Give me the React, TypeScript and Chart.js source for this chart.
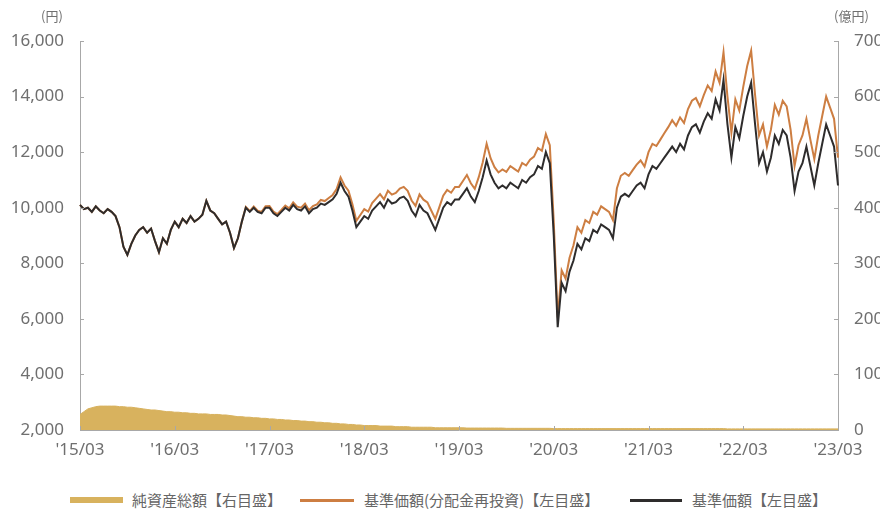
import React, { useEffect, useRef } from "react";
import { Chart, registerables } from "chart.js";

Chart.register(...registerables);

// 半月ごとの日付（2015/03 〜 2023/03）
const startYear = 2015;
const dates: string[] = [];
for (let i = 0; i < 193; i++) {
  const m = Math.floor(i / 2) + 2; // 0-based month from Jan 2015
  const y = startYear + Math.floor(m / 12);
  const mm = (m % 12) + 1;
  dates.push(`${y}/${String(mm).padStart(2, "0")}/${i % 2 === 0 ? "01" : "15"}`);
}

// 基準価額（円）
const navValues: number[] = [
  // 2015
  10100, 9950, 10000, 9850, 10050, 9900, 9800, 9950, 9850, 9700, 9300, 8600, 8300, 8700, 9000, 9200, 9300, 9100, 9250, 8800,
  // 2016
  8400, 8900, 8700, 9200, 9500, 9300, 9600, 9450, 9700, 9500, 9600, 9750, 10250, 9900, 9800, 9600, 9400, 9500, 9100, 8550, 8900, 9500, 10000, 9850,
  // 2017
  10000, 9850, 9800, 10000, 10000, 9800, 9700, 9850, 10000, 9900, 10100, 9950, 9900, 10050, 9800, 9950, 10000, 10150, 10100, 10200, 10300, 10500, 10900, 10600,
  // 2018
  10400, 9900, 9300, 9500, 9700, 9600, 9900, 10050, 10200, 10000, 10300, 10150, 10200, 10350, 10400, 10250, 9900, 9700, 10100, 9900, 9800, 9500, 9200, 9600,
  // 2019
  10000, 10200, 10100, 10300, 10300, 10500, 10700, 10400, 10200, 10600, 11100, 11700, 11200, 10900, 10700, 10800, 10700, 10900, 10800, 10700, 11000, 10900, 11100, 11200,
  // 2020
  11500, 11400, 12000, 11600, 9000, 5700, 7300, 7000, 7700, 8100, 8700, 8500, 8900, 8800, 9200, 9100, 9400, 9300, 9200, 8900, 10000, 10400, 10500, 10400,
  // 2021
  10600, 10800, 10900, 10700, 11200, 11500, 11400, 11600, 11800, 12000, 12200, 12000, 12300, 12100, 12600, 12900, 13000, 12700, 13100, 13400, 13200, 13900, 13500, 14600,
  // 2022
  13000, 11800, 12900, 12500, 13300, 14000, 14500, 13000, 11600, 12000, 11300, 11800, 12600, 12300, 12800, 12600, 11800, 10600, 11300, 11600, 12200, 11500, 10800, 11600,
  // 2023
  12300, 13000, 12600, 12200, 10800,
];

// 基準価額（分配金再投資）（円）
const navReinvested: number[] = [
  // 2015
  10100, 9950, 10000, 9850, 10050, 9900, 9800, 9950, 9850, 9700, 9300, 8600, 8300, 8700, 9000, 9200, 9300, 9100, 9250, 8800,
  // 2016
  8400, 8900, 8700, 9200, 9500, 9300, 9600, 9450, 9700, 9500, 9600, 9750, 10250, 9900, 9800, 9600, 9400, 9500, 9100, 8550, 8900, 9500, 10030, 9880,
  // 2017
  10040, 9890, 9850, 10050, 10060, 9860, 9770, 9920, 10080, 9980, 10190, 10040, 10000, 10150, 9910, 10060, 10120, 10280, 10240, 10350, 10460, 10670, 11090, 10800,
  // 2018
  10610, 10120, 9530, 9740, 9950, 9860, 10170, 10330, 10490, 10300, 10610, 10470, 10530, 10690, 10750, 10610, 10260, 10070, 10480, 10290, 10190, 9890, 9600, 10010,
  // 2019
  10430, 10640, 10540, 10750, 10750, 10960, 11180, 10880, 10680, 11100, 11630, 12300, 11780, 11460, 11270, 11380, 11290, 11500, 11400, 11300, 11610, 11520, 11730, 11840,
  // 2020
  12150, 12050, 12650, 12250, 9500, 6050, 7750, 7450, 8200, 8650, 9300, 9100, 9550, 9450, 9850, 9750, 10050, 9950, 9850, 9550, 10700, 11150, 11250, 11150,
  // 2021
  11350, 11550, 11700, 11480, 12000, 12300, 12220, 12450, 12680, 12900, 13150, 12950, 13250, 13050, 13550, 13850, 13950, 13650, 14050, 14400, 14200, 14900, 14500, 15600,
  // 2022
  14000, 12700, 13900, 13500, 14350, 15100, 15650, 14050, 12600, 13000, 12200, 12800, 13700, 13350, 13850, 13650, 12800, 11500, 12250, 12600, 13200, 12450, 11750, 12600,
  // 2023
  13300, 14000, 13600, 13200, 11800,
];

// 純資産総額（億円）
const netAssets: number[] = [
  // 2015
  28, 33, 38, 40, 42, 43, 43, 43, 43, 43, 42, 42, 41, 41, 40, 39, 38, 37, 36, 36,
  // 2016
  35, 34, 33, 33, 32, 32, 31, 31, 30, 30, 29, 29, 29, 28, 28, 28, 27, 27, 26, 25, 24, 24, 23, 23,
  // 2017
  22, 22, 21, 21, 20, 20, 19, 19, 18, 18, 17, 17, 16, 16, 15, 15, 14, 14, 13, 13, 12, 12, 11, 11,
  // 2018
  10, 10, 9, 9, 8, 8, 8, 8, 7, 7, 7, 7, 6, 6, 6, 6, 5, 5, 5, 5, 5, 5, 4, 4,
  // 2019
  4, 4, 4, 4, 4, 4, 3.5, 3.5, 3.5, 3.5, 3.5, 3.5, 3.5, 3.5, 3.5, 3.5, 3, 3, 3, 3, 3, 3, 3, 3,
  // 2020
  3, 3, 3, 3, 2.5, 2.5, 2.5, 2.5, 2.5, 2.5, 2.5, 2.5, 2.5, 2.5, 2.5, 2.5, 2.5, 2.5, 2.5, 2.5, 2.5, 2.5, 2.5, 2.5,
  // 2021
  2.5, 2.5, 2.5, 2.5, 2.5, 2.5, 2.5, 2.5, 2.5, 2.5, 2.5, 2.5, 2.5, 2.5, 2.5, 2.5, 2.5, 2.5, 2.5, 2.5, 2.5, 2.5, 2.5, 2.5,
  // 2022
  2, 2, 2, 2, 2, 2, 2, 2, 2, 2, 2, 2, 2, 2, 2, 2, 2, 2, 2, 2, 2, 2, 2, 2,
  // 2023
  2, 2, 2, 2, 2,
];

const leftTicks: number[] = [2000, 4000, 6000, 8000, 10000, 12000, 14000, 16000];
const rightTicks: number[] = [0, 100, 200, 300, 400, 500, 600, 700];

const legendItems = [
  { label: "純資産総額【右目盛】", color: "#D8B25E", width: 6, lineLeft: 70, lineLen: 53, textLeft: 132 },
  { label: "基準価額(分配金再投資)【左目盛】", color: "#CD7E42", width: 3, lineLeft: 300, lineLen: 54, textLeft: 364 },
  { label: "基準価額【左目盛】", color: "#2E2C2C", width: 3, lineLeft: 630, lineLen: 52, textLeft: 692 },
];

const tickFont = { family: "'Noto Sans', sans-serif", size: 17 };
const tickColor = "#6f6f6f";
const axisColor = "#a8a8a8";

// 軸の内側向き目盛り線
const innerTicksPlugin = {
  id: "innerTicks",
  afterDraw(chart: any) {
    const { ctx, chartArea, scales } = chart;
    const len = 4;
    ctx.save();
    ctx.strokeStyle = axisColor;
    ctx.lineWidth = 1;
    ctx.beginPath();
    leftTicks.forEach((v) => {
      const y = Math.round(scales.y.getPixelForValue(v)) + 0.5;
      ctx.moveTo(chartArea.left, y);
      ctx.lineTo(chartArea.left + len, y);
    });
    rightTicks.forEach((v) => {
      const y = Math.round(scales.y1.getPixelForValue(v)) + 0.5;
      ctx.moveTo(chartArea.right, y);
      ctx.lineTo(chartArea.right - len, y);
    });
    dates.forEach((d, i) => {
      if (d.endsWith("/03/01")) {
        const x = Math.round(scales.x.getPixelForValue(i)) + 0.5;
        ctx.moveTo(x, chartArea.bottom);
        ctx.lineTo(x, chartArea.bottom - len);
      }
    });
    ctx.stroke();
    ctx.restore();
  },
};

export default function App() {
  const canvasRef = useRef<HTMLCanvasElement | null>(null);

  useEffect(() => {
    document.body.style.margin = "0";
    const canvas = canvasRef.current;
    if (!canvas) return;
    const chart = new Chart(canvas, {
      type: "line",
      data: {
        labels: dates,
        datasets: [
          {
            label: "基準価額【左目盛】",
            data: navValues,
            yAxisID: "y",
            borderColor: "#2E2C2C",
            borderWidth: 2,
            pointRadius: 0,
            tension: 0,
            fill: false,
            order: 1,
          },
          {
            label: "基準価額(分配金再投資)【左目盛】",
            data: navReinvested,
            yAxisID: "y",
            borderColor: "#CD7E42",
            borderWidth: 2,
            pointRadius: 0,
            tension: 0,
            fill: false,
            order: 2,
          },
          {
            label: "純資産総額【右目盛】",
            data: netAssets,
            yAxisID: "y1",
            borderColor: "#D8B25E",
            backgroundColor: "#D8B25E",
            borderWidth: 1,
            pointRadius: 0,
            tension: 0,
            fill: "origin",
            order: 3,
          },
        ],
      },
      plugins: [innerTicksPlugin],
      options: {
        animation: false,
        responsive: false,
        maintainAspectRatio: false,
        layout: { padding: { top: 41, left: 0, right: 0, bottom: 0 } },
        plugins: { legend: { display: false }, tooltip: { enabled: false } },
        scales: {
          x: {
            type: "category",
            offset: false,
            grid: { display: false },
            border: { display: true, color: axisColor, width: 1 },
            ticks: {
              autoSkip: false,
              maxRotation: 0,
              minRotation: 0,
              padding: 2,
              color: tickColor,
              font: tickFont,
              callback: (_v: any, i: number) => {
                const d = dates[i];
                return d.endsWith("/03/01") ? "'" + d.slice(2, 7) : "";
              },
            },
            afterFit: (s: any) => {
              s.height = 40;
            },
          },
          y: {
            position: "left",
            min: 2000,
            max: 16000,
            grid: { display: false },
            border: { display: true, color: axisColor, width: 1 },
            afterBuildTicks: (s: any) => {
              s.ticks = leftTicks.map((v) => ({ value: v }));
            },
            ticks: {
              padding: 8,
              color: tickColor,
              font: tickFont,
              callback: (v: any) => Number(v).toLocaleString("en-US"),
            },
            afterFit: (s: any) => {
              s.width = 80;
            },
          },
          y1: {
            position: "right",
            min: 0,
            max: 700,
            grid: { display: false },
            border: { display: true, color: axisColor, width: 1 },
            afterBuildTicks: (s: any) => {
              s.ticks = rightTicks.map((v) => ({ value: v }));
            },
            ticks: {
              padding: 8,
              color: tickColor,
              font: tickFont,
              callback: (v: any) => String(v),
            },
            afterFit: (s: any) => {
              s.width = 42;
            },
          },
        },
      },
    });
    return () => chart.destroy();
  }, []);

  return (
    <div style={{ position: "relative", width: 880, height: 511, background: "#fff", overflow: "hidden" }}>
      <canvas ref={canvasRef} width={880} height={470} style={{ position: "absolute", left: 0, top: 0, width: 880, height: 470 }} />
      <span style={{ position: "absolute", left: 41, top: 6, fontSize: 13, color: "#6f6f6f", fontFamily: "'Noto Sans CJK JP', sans-serif" }}>(円)</span>
      <span style={{ position: "absolute", left: 834, top: 6, fontSize: 13, color: "#6f6f6f", fontFamily: "'Noto Sans CJK JP', sans-serif" }}>(億円)</span>
      {legendItems.map((it) => (
        <React.Fragment key={it.label}>
          <div style={{ position: "absolute", left: it.lineLeft, top: 500 - it.width / 2, width: it.lineLen, height: it.width, background: it.color }} />
          <span style={{ position: "absolute", left: it.textLeft, top: 490, fontSize: 15, lineHeight: "20px", color: "#666", fontFamily: "'Noto Sans CJK JP', sans-serif", whiteSpace: "nowrap" }}>{it.label}</span>
        </React.Fragment>
      ))}
    </div>
  );
}
